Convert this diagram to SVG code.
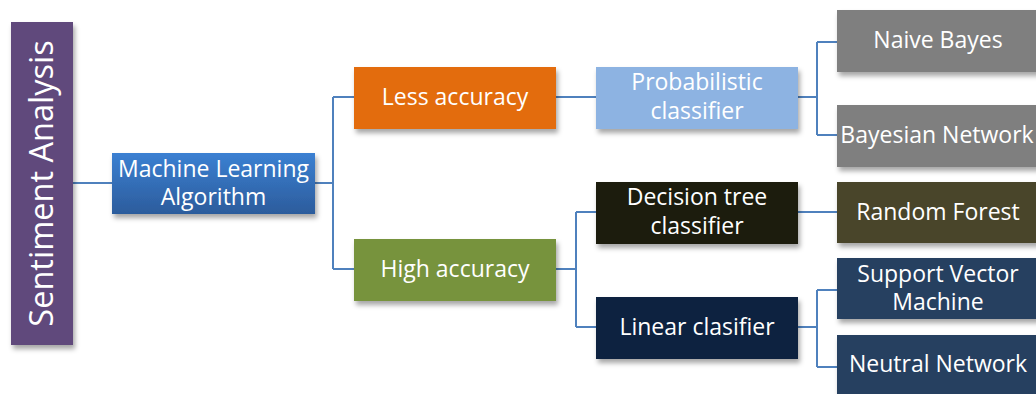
<svg xmlns="http://www.w3.org/2000/svg" width="1036" height="394" viewBox="0 0 1036 394">
  <defs>
    <filter id="shadow" x="-10%" y="-20%" width="130%" height="160%">
      <feDropShadow dx="2" dy="4" stdDeviation="2.5" flood-color="#000" flood-opacity="0.35"/>
    </filter>
    <linearGradient id="mlGrad" x1="0" y1="0" x2="0" y2="1">
      <stop offset="0" stop-color="#3b80d2"/>
      <stop offset="1" stop-color="#2c5c9c"/>
    </linearGradient>
    <style>
      .box { filter: url(#shadow); }
      .lbl { font-family: "Open Sans", "Noto Sans", "Liberation Sans", sans-serif; font-size: 23px; fill: #ffffff; text-anchor: middle; }
      .conn { fill: none; stroke: #4f81bd; stroke-width: 2; }
    </style>
  </defs>
  <rect width="1036" height="394" fill="#ffffff"/>

  <!-- connectors -->
  <g id="connectors" class="conn">
    <path d="M73 183 H112"/>
    <path d="M315 183 H333 M333 97 V269 M333 97 H354 M333 269 H354"/>
    <path d="M556 97 H596"/>
    <path d="M556 269 H576 M576 212 V327 M576 212 H596 M576 327 H596"/>
    <path d="M798 97 H817 M817 42 V135 M817 42 H837 M817 135 H837"/>
    <path d="M798 212 H837"/>
    <path d="M798 327 H817 M817 290 V367 M817 290 H837 M817 367 H837"/>
  </g>

  <g id="sentiment-analysis">
    <rect class="box" x="11" y="22" width="62" height="323" fill="#604a7b"/>
    <text class="lbl" transform="translate(53 183.5) rotate(-90)" style="font-size:32.5px">Sentiment Analysis</text>
  </g>

  <g id="machine-learning">
    <rect class="box" x="112" y="153" width="203" height="61" fill="url(#mlGrad)"/>
    <text class="lbl" x="213.5" y="177">Machine Learning</text>
    <text class="lbl" x="213.5" y="205">Algorithm</text>
  </g>

  <g id="less-accuracy">
    <rect class="box" x="354" y="67" width="202" height="62" fill="#e36c0a"/>
    <text class="lbl" x="455" y="105">Less accuracy</text>
  </g>

  <g id="high-accuracy">
    <rect class="box" x="354" y="239" width="202" height="62" fill="#77933c"/>
    <text class="lbl" x="455" y="277">High accuracy</text>
  </g>

  <g id="probabilistic">
    <rect class="box" x="596" y="67" width="202" height="62" fill="#8db3e2"/>
    <text class="lbl" x="697" y="90">Probabilistic</text>
    <text class="lbl" x="697" y="119">classifier</text>
  </g>

  <g id="decision-tree">
    <rect class="box" x="596" y="182" width="202" height="62" fill="#1d1b11"/>
    <text class="lbl" x="697" y="205">Decision tree</text>
    <text class="lbl" x="697" y="234">classifier</text>
  </g>

  <g id="linear-classifier">
    <rect class="box" x="596" y="297" width="202" height="62" fill="#10243f"/>
    <text class="lbl" x="697" y="335">Linear clasifier</text>
  </g>

  <g id="naive-bayes">
    <rect class="box" x="837" y="10" width="202" height="62" fill="#7f7f7f"/>
    <text class="lbl" x="938" y="48">Naive Bayes</text>
  </g>

  <g id="bayesian-network">
    <rect class="box" x="837" y="105" width="202" height="62" fill="#7f7f7f"/>
    <text class="lbl" x="937" y="143">Bayesian Network</text>
  </g>

  <g id="random-forest">
    <rect class="box" x="837" y="182" width="202" height="61" fill="#4a442a"/>
    <text class="lbl" x="938" y="220">Random Forest</text>
  </g>

  <g id="support-vector-machine">
    <rect class="box" x="837" y="258" width="202" height="61" fill="#254061"/>
    <text class="lbl" x="938" y="282">Support Vector</text>
    <text class="lbl" x="938" y="310">Machine</text>
  </g>

  <g id="neutral-network">
    <rect class="box" x="837" y="335" width="202" height="62" fill="#254061"/>
    <text class="lbl" x="938" y="372">Neutral Network</text>
  </g>
</svg>
